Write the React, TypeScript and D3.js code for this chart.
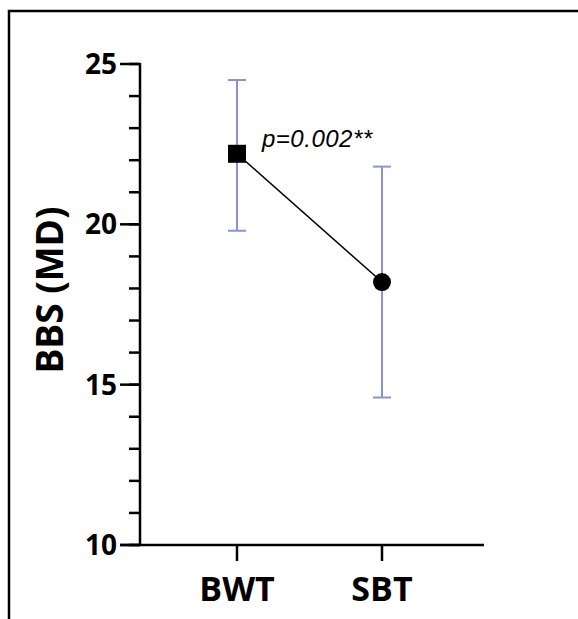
import React, { useEffect, useRef } from "react";
import * as d3 from "d3";

const groups = ["BWT", "SBT"];
const means = [22.2, 18.2];
const upper = [24.5, 21.8];
const lower = [19.8, 14.6];
const yTicks = [10, 15, 20, 25];
const pLabel = "p=0.002**";

const W = 578;
const H = 619;

const App = () => {
  const ref = useRef(null);

  useEffect(() => {
    drawChart();
  }, []);

  const drawChart = () => {
    const svg = d3.select(ref.current);
    svg.selectAll("*").remove();

    const axisX = 140;
    const axisY = 545;
    const font = "Open Sans, sans-serif";

    const y = d3.scaleLinear().domain([10, 25]).range([axisY, 64]);
    const x = d3.scalePoint().domain(groups).range([237, 382]);

    // outer frame
    svg.append("path")
      .attr("d", `M9,${H + 5}V11H${W + 5}`)
      .attr("fill", "none")
      .attr("stroke", "#000")
      .attr("stroke-width", 2.5);

    // minor ticks
    const minor = d3.range(10, 25.01, 1);
    svg.selectAll(".minor")
      .data(minor)
      .enter()
      .append("line")
      .attr("x1", axisX - 11)
      .attr("x2", axisX)
      .attr("y1", (d) => y(d))
      .attr("y2", (d) => y(d))
      .attr("stroke", "#000")
      .attr("stroke-width", 2.5);

    // major ticks
    svg.selectAll(".major")
      .data(yTicks)
      .enter()
      .append("line")
      .attr("x1", axisX - 20)
      .attr("x2", axisX)
      .attr("y1", (d) => y(d))
      .attr("y2", (d) => y(d))
      .attr("stroke", "#000")
      .attr("stroke-width", 2.5);

    svg.selectAll(".ylab")
      .data(yTicks)
      .enter()
      .append("text")
      .attr("x", axisX - 23)
      .attr("y", (d) => y(d) + 10)
      .attr("text-anchor", "end")
      .attr("font-family", font)
      .attr("font-weight", "bold")
      .attr("font-size", 28)
      .text((d) => d);

    // y axis line
    svg.append("line")
      .attr("x1", axisX).attr("x2", axisX)
      .attr("y1", y(25) - 1).attr("y2", axisY + 1)
      .attr("stroke", "#000").attr("stroke-width", 2.5);

    // x axis line
    svg.append("line")
      .attr("x1", axisX - 20).attr("x2", 484)
      .attr("y1", axisY).attr("y2", axisY)
      .attr("stroke", "#000").attr("stroke-width", 2.5);

    svg.selectAll(".xtick")
      .data(groups)
      .enter()
      .append("line")
      .attr("x1", (d) => x(d))
      .attr("x2", (d) => x(d))
      .attr("y1", axisY)
      .attr("y2", axisY + 16)
      .attr("stroke", "#000")
      .attr("stroke-width", 2.5);

    svg.selectAll(".xlab")
      .data(groups)
      .enter()
      .append("text")
      .attr("x", (d) => x(d))
      .attr("y", 601)
      .attr("text-anchor", "middle")
      .attr("font-family", font)
      .attr("font-weight", "bold")
      .attr("font-size", 34)
      .text((d) => d);

    // y title
    svg.append("text")
      .attr("transform", `translate(63,290) rotate(-90)`)
      .attr("text-anchor", "middle")
      .attr("font-family", font)
      .attr("font-weight", "bold")
      .attr("font-size", 37)
      .text("BBS (MD)");

    // error bars
    const errColor = "#8b93cf";
    const eb = svg.selectAll(".eb")
      .data(groups)
      .enter()
      .append("g");
    eb.append("line")
      .attr("x1", (d) => x(d)).attr("x2", (d) => x(d))
      .attr("y1", (d, i) => y(upper[i])).attr("y2", (d, i) => y(lower[i]))
      .attr("stroke", errColor).attr("stroke-width", 2);
    eb.append("line")
      .attr("x1", (d) => x(d) - 9).attr("x2", (d) => x(d) + 9)
      .attr("y1", (d, i) => y(upper[i])).attr("y2", (d, i) => y(upper[i]))
      .attr("stroke", errColor).attr("stroke-width", 2);
    eb.append("line")
      .attr("x1", (d) => x(d) - 9).attr("x2", (d) => x(d) + 9)
      .attr("y1", (d, i) => y(lower[i])).attr("y2", (d, i) => y(lower[i]))
      .attr("stroke", errColor).attr("stroke-width", 2);

    // connecting line
    const line = d3.line()
      .x((d) => x(d[0]))
      .y((d) => y(d[1]));
    svg.append("path")
      .attr("d", line(groups.map((g, i) => [g, means[i]])))
      .attr("fill", "none")
      .attr("stroke", "#000")
      .attr("stroke-width", 1.5);

    // markers
    svg.append("rect")
      .attr("x", x(groups[0]) - 9)
      .attr("y", y(means[0]) - 9)
      .attr("width", 18)
      .attr("height", 18)
      .attr("fill", "#000");
    svg.append("circle")
      .attr("cx", x(groups[1]))
      .attr("cy", y(means[1]))
      .attr("r", 9)
      .attr("fill", "#000");

    svg.append("text")
      .attr("x", 262)
      .attr("y", 147)
      .attr("font-family", "Liberation Sans, Arial, sans-serif")
      .attr("font-style", "italic")
      .attr("font-size", 24)
      .attr("letter-spacing", 0.5)
      .text(pLabel);
  };

  return (
    <svg
      ref={ref}
      width={W}
      height={H}
      style={{ position: "absolute", left: 0, top: 0, background: "#fff" }}
    />
  );
};

export default App;
